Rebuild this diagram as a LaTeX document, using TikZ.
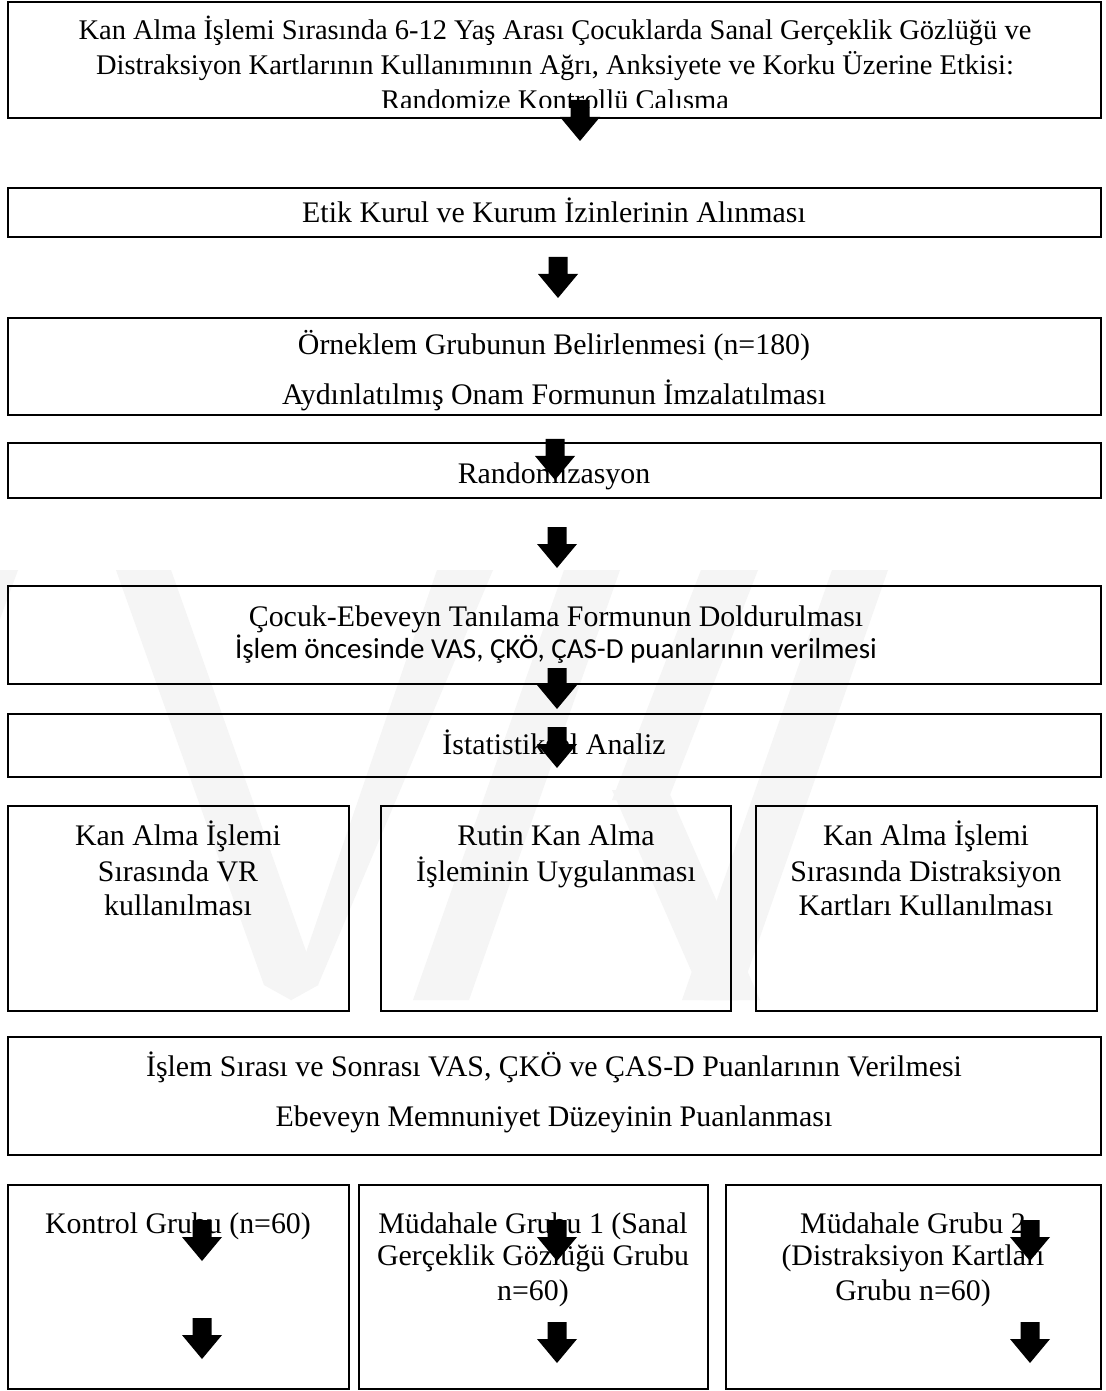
\documentclass[tikz,border=0pt]{standalone}
\usepackage{fontspec}
\setmainfont{Liberation Serif}
\newfontfamily\calibrifont{Carlito}
\usetikzlibrary{fit}
\tikzset{
  box/.style={draw=black, line width=1.1pt, inner sep=0pt, outer sep=0pt},
  txt/.style={anchor=base, inner sep=0pt, font=\fontsize{17}{20}\selectfont},
  ttxt/.style={anchor=base, inner sep=0pt, font=\fontsize{16.2}{20}\selectfont},
  ctxt/.style={anchor=base, inner sep=0pt, font=\calibrifont\fontsize{16.5}{20}\selectfont},
  wm/.style={fill=black!4, draw=none},
  blkarrow/.style={fill=black, draw=none}
}
\newcommand\dnarrow[3]{%
  \coordinate (#1) at (#2,#3);
  \fill[blkarrow, shift={(#2,#3)}] (-9.5,0) -- (9.5,0) -- (9.5,17) -- (20,17) -- (0,41) -- (-20,17) -- (-9.5,17) -- cycle;}
\begin{document}
\begin{tikzpicture}[x=0.02cm, y=-0.02cm]
\useasboundingbox (0,0) rectangle (1105,1391);
\fill[white] (0,0) rectangle (1105,1391);

% watermark
\begin{scope}
\clip (0,0) rectangle (1105,1391);
\fill[wm] (-40,570) -- (18,570) -- (-140,1000) -- (-198,1000) -- cycle;
\fill[wm] (116,570) -- (171,570) -- (318,985) -- (291,1000) -- (264,985) -- cycle;
\fill[wm] (437,570) -- (493,570) -- (318,985) -- (291,1000) -- (300,970) -- cycle;
\fill[wm] (564,570) -- (620,570) -- (469,1000) -- (413,1000) -- cycle;
\fill[wm] (701,570) -- (758,570) -- (668,800) -- (612,800) -- cycle;
\fill[wm] (612,790) -- (668,790) -- (760,1000) -- (704,1000) -- cycle;
\fill[wm] (832,570) -- (888,570) -- (738,1000) -- (682,1000) -- cycle;
\end{scope}

% boxes
\node[box, fit={(8,2) (1101,118)}] (b1) {};
\node[box, fit={(8,188) (1101,237)}] (b2) {};
\node[box, fit={(8,318) (1101,415)}] (b3) {};
\node[box, fit={(8,443) (1101,498)}] (b4) {};
\node[box, fit={(8,586) (1101,684)}] (b5) {};
\node[box, fit={(8,714) (1101,777)}] (b6) {};
\node[box, fit={(8,806) (349,1011)}] (b7a) {};
\node[box, fit={(381,806) (731,1011)}] (b7b) {};
\node[box, fit={(756,806) (1097,1011)}] (b7c) {};
\node[box, fit={(8,1037) (1101,1155)}] (b8) {};
\node[box, fit={(8,1185) (349,1389)}] (b9a) {};
\node[box, fit={(359,1185) (708,1389)}] (b9b) {};
\node[box, fit={(726,1185) (1101,1389)}] (b9c) {};

% texts
\begin{scope}
\clip (8,2) rectangle (1101,108);
\node[ttxt] (t1a) at (555,40) {Kan Alma İşlemi Sırasında 6-12 Yaş Arası Çocuklarda Sanal Gerçeklik Gözlüğü ve};
\node[ttxt] (t1b) at (555,75) {Distraksiyon Kartlarının Kullanımının Ağrı, Anksiyete ve Korku Üzerine Etkisi:};
\node[ttxt] (t1c) at (555,110) {Randomize Kontrollü Çalışma};
\end{scope}
\node[txt] (t2) at (554,223) {Etik Kurul ve Kurum İzinlerinin Alınması};
\node[txt] (t3a) at (554,355) {Örneklem Grubunun Belirlenmesi (n=180)};
\node[txt] (t3b) at (554,405) {Aydınlatılmış Onam Formunun İmzalatılması};
\node[txt] (t4) at (554,483) {Randomizasyon};
\node[txt] (t5a) at (556,626) {Çocuk-Ebeveyn Tanılama Formunun Doldurulması};
\node[ctxt] (t5b) at (556,658) {İşlem öncesinde VAS, ÇKÖ, ÇAS-D puanlarının verilmesi};
\node[txt] (t6) at (554,754) {İstatistiksel Analiz};
\node[txt] (t7a1) at (178,845) {Kan Alma İşlemi};
\node[txt] (t7a2) at (178,881) {Sırasında VR};
\node[txt] (t7a3) at (178,915) {kullanılması};
\node[txt] (t7b1) at (556,845) {Rutin Kan Alma};
\node[txt] (t7b2) at (556,881) {İşleminin Uygulanması};
\node[txt] (t7c1) at (926,845) {Kan Alma İşlemi};
\node[txt] (t7c2) at (926,881) {Sırasında Distraksiyon};
\node[txt] (t7c3) at (926,915) {Kartları Kullanılması};
\node[txt] (t8a) at (554,1076) {İşlem Sırası ve Sonrası VAS, ÇKÖ ve ÇAS-D Puanlarının Verilmesi};
\node[txt] (t8b) at (554,1126) {Ebeveyn Memnuniyet Düzeyinin Puanlanması};
\node[txt] (t9a) at (178,1233) {Kontrol Grubu (n=60)};
\node[txt] (t9b1) at (533,1233) {Müdahale Grubu 1 (Sanal};
\node[txt] (t9b2) at (533,1265) {Gerçeklik Gözlüğü Grubu};
\node[txt] (t9b3) at (533,1300) {n=60)};
\node[txt] (t9c1) at (913,1233) {Müdahale Grubu 2};
\node[txt] (t9c2) at (913,1265) {(Distraksiyon Kartları};
\node[txt] (t9c3) at (913,1300) {Grubu n=60)};

% arrows
\dnarrow{a1}{580}{100}
\dnarrow{a2}{558}{257}
\dnarrow{a3}{555}{439}
\dnarrow{a4}{557}{527}
\dnarrow{a5}{557}{668}
\dnarrow{a6}{557}{727}
\dnarrow{a7}{202}{1220}
\dnarrow{a8}{557}{1220}
\dnarrow{a9}{1030}{1220}
\dnarrow{a10}{202}{1318}
\dnarrow{a11}{557}{1322}
\dnarrow{a12}{1030}{1322}
\end{tikzpicture}
\end{document}
